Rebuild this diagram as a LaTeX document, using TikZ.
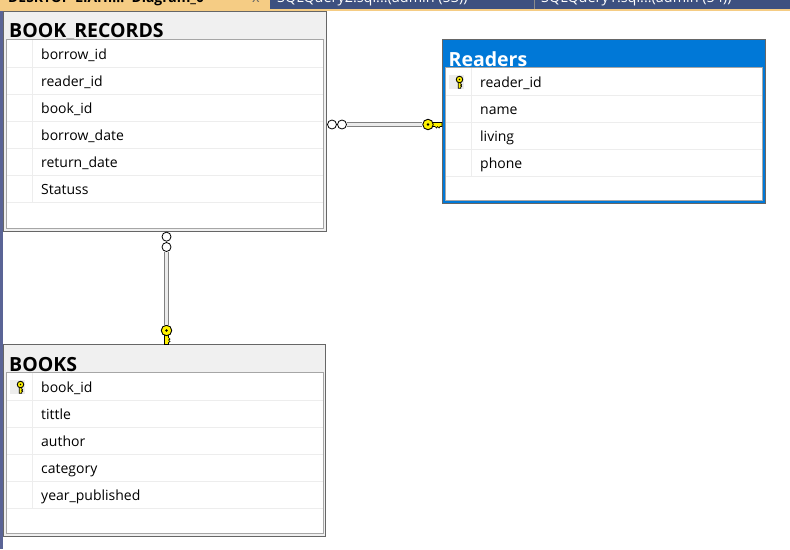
\documentclass[tikz,border=0pt]{standalone}
\usepackage{fontspec}
\setmainfont{Open Sans}
\usepackage{tikz}
\definecolor{ssmsOrange}{HTML}{F5CC84}
\definecolor{ssmsNavy}{HTML}{3D5080}
\definecolor{ssmsSide}{HTML}{5A6496}
\definecolor{ssmsBlue}{HTML}{0078D7}
\tikzset{
    tablebox/.style={draw=black!60, fill=black!6, line width=1pt, anchor=north west, inner sep=0pt, outer sep=0pt},
    tablesel/.style={draw=black!60, fill=ssmsBlue, line width=1pt, anchor=north west, inner sep=0pt, outer sep=0pt},
    tablegrid/.style={draw=black!35, fill=white, line width=1pt, anchor=north west, inner sep=0pt, outer sep=0pt},
    tabletitle/.style={anchor=base west, inner sep=0pt, font=\fontsize{19.5}{22}\selectfont\bfseries},
    colname/.style={anchor=base west, inner sep=0pt, font=\fontsize{14}{16}\selectfont},
    rowline/.style={draw=black!7, line width=1pt},
    crowfoot/.style={circle, draw=black, fill=white, line width=0.8pt, minimum size=9pt, inner sep=0pt},
    relline/.style={draw=black!50, double=black!8, double distance=2.2pt, line width=1.4pt},
    keyhead/.style={circle, draw=black, fill=yellow, line width=0.9pt, minimum size=10.5pt, inner sep=0pt, transform shape},
    keyicon/.pic={
        \fill[yellow, draw=black, line width=0.7pt] (3,-2) -- (14,-2) -- (14,2) -- (12,2) -- (11,3.5) -- (9.5,2) -- (8.5,3.5) -- (7,2) -- (3,2) -- cycle;
        \node[keyhead] (-head) at (0,0) {};
        \fill[black] (0,0) circle (1.3);
    },
    tabtext/.style={anchor=base west, inner sep=0pt, font=\fontsize{14.4}{16}\selectfont}
}
\begin{document}
\begin{tikzpicture}[x=1pt, y=-1pt]
    \useasboundingbox (0,0) rectangle (790,549);
    % window chrome
    \fill[ssmsNavy] (270,0) rectangle (790,9);
    \fill[ssmsOrange] (270,9) rectangle (790,11);
    \fill[ssmsOrange] (0,0) rectangle (270,11);
    \fill[ssmsSide] (0,11) rectangle (3,549);
    \draw[black!45, line width=1pt] (534,0) -- (534,9);
    \begin{scope}
        \clip (0,0) rectangle (790,9);
        \node[tabtext, font=\fontsize{13.9}{16}\selectfont\bfseries] (tabdiag) at (8,2.5) {DESKTOP-LIAHI...\ \ Diagram\_0};
        \node[tabtext, text=black!60] (tabclose) at (252,2.5) {x};
        \node[tabtext, text=white] (tabone) at (277,2.5) {SQLQuery2.sql...(admin (53))};
        \node[tabtext, text=white] (tabtwo) at (541,2.5) {SQLQuery1.sql...(admin (54))};
    \end{scope}

    % BOOK_RECORDS
    \node[tablebox, minimum width=323pt, minimum height=220pt] (records) at (3.5,11.5) {};
    \node[tabletitle] (recordstitle) at (9,37.5) {BOOK\_RECORDS};
    \node[tablegrid, minimum width=317pt, minimum height=189pt] (recordsgrid) at (6.5,39.5) {};
    \draw[rowline] (32.5,40) -- (32.5,202.5);
    \draw[rowline] (7,67.5) -- (323,67.5);
    \draw[rowline] (7,94.5) -- (323,94.5);
    \draw[rowline] (7,121.5) -- (323,121.5);
    \draw[rowline] (7,148.5) -- (323,148.5);
    \draw[rowline] (7,175.5) -- (323,175.5);
    \draw[rowline] (7,202.5) -- (323,202.5);
    \node[colname] (r1) at (41,59) {borrow\_id};
    \node[colname] (r2) at (41,86) {reader\_id};
    \node[colname] (r3) at (41,113) {book\_id};
    \node[colname] (r4) at (41,140) {borrow\_date};
    \node[colname] (r5) at (41,167) {return\_date};
    \node[colname] (r6) at (41,194) {Statuss};

    % Readers
    \node[tablesel, minimum width=323pt, minimum height=164pt] (readers) at (442.5,39.5) {};
    \node[tabletitle, text=white] (readerstitle) at (448.5,66) {Readers};
    \node[tablegrid, minimum width=317pt, minimum height=133pt] (readersgrid) at (445.5,67.5) {};
    \draw[rowline] (471.5,68) -- (471.5,176.5);
    \draw[rowline] (446,95.5) -- (762,95.5);
    \draw[rowline] (446,122.5) -- (762,122.5);
    \draw[rowline] (446,149.5) -- (762,149.5);
    \draw[rowline] (446,176.5) -- (762,176.5);
    \fill[black!7] (449,75) rectangle (464,89);
    \pic[rotate=-90, yscale=-1, scale=0.62, transform shape] (readerskey) at (459.5,79.5) {keyicon};
    \node[colname] (p1) at (480,87) {reader\_id};
    \node[colname] (p2) at (480,114) {name};
    \node[colname] (p3) at (480,141) {living};
    \node[colname] (p4) at (480,168) {phone};

    % BOOKS
    \node[tablebox, minimum width=322pt, minimum height=192pt] (books) at (3.5,344.5) {};
    \node[tabletitle] (bookstitle) at (9,371) {BOOKS};
    \node[tablegrid, minimum width=317pt, minimum height=161pt] (booksgrid) at (6.5,372.5) {};
    \draw[rowline] (32.5,373) -- (32.5,508.5);
    \draw[rowline] (7,400.5) -- (323,400.5);
    \draw[rowline] (7,427.5) -- (323,427.5);
    \draw[rowline] (7,454.5) -- (323,454.5);
    \draw[rowline] (7,481.5) -- (323,481.5);
    \draw[rowline] (7,508.5) -- (323,508.5);
    \fill[black!7] (10,379.5) rectangle (25,393.5);
    \pic[rotate=-90, yscale=-1, scale=0.62, transform shape] (bookskey) at (20.5,384.5) {keyicon};
    \node[colname] (b1) at (41,392) {book\_id};
    \node[colname] (b2) at (41,419) {tittle};
    \node[colname] (b3) at (41,446) {author};
    \node[colname] (b4) at (41,473) {category};
    \node[colname] (b5) at (41,500) {year\_published};

    % relationships
    \node[crowfoot] (rr1) at (332,124.5) {};
    \node[crowfoot] (rr2) at (342,124.5) {};
    \pic (rrkey) at (428,124.5) {keyicon};
    \draw[relline] (rr2) -- (rrkey-head);
    \node[crowfoot] (rb1) at (166.5,236.7) {};
    \node[crowfoot] (rb2) at (166.5,247) {};
    \pic[rotate=-90, yscale=-1, transform shape] (rbkey) at (166.5,330.5) {keyicon};
    \draw[relline] (rb2) -- (rbkey-head);
\end{tikzpicture}
\end{document}
